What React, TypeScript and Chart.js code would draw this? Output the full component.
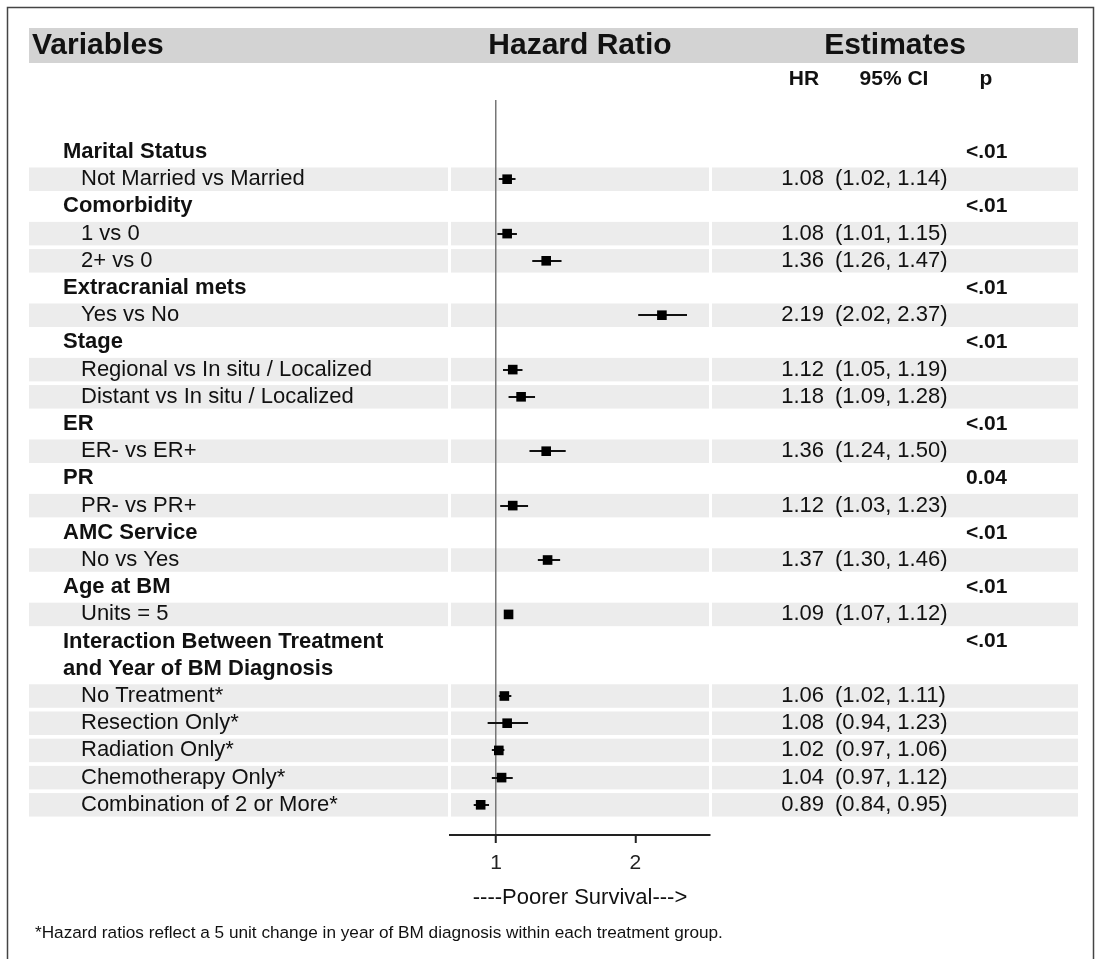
import React, { useEffect, useRef } from "react";
import { Chart, registerables } from "chart.js";

Chart.register(...registerables);

// ---------- data ----------
const rowLabels: string[] = [
  "Marital Status",
  "Not Married vs Married",
  "Comorbidity",
  "1 vs 0",
  "2+ vs 0",
  "Extracranial mets",
  "Yes vs No",
  "Stage",
  "Regional vs In situ / Localized",
  "Distant vs In situ / Localized",
  "ER",
  "ER- vs ER+",
  "PR",
  "PR- vs PR+",
  "AMC Service",
  "No vs Yes",
  "Age at BM",
  "Units = 5",
  "Interaction Between Treatment",
  "and Year of BM Diagnosis",
  "No Treatment*",
  "Resection Only*",
  "Radiation Only*",
  "Chemotherapy Only*",
  "Combination of 2 or More*",
];

const rowIsGroup: boolean[] = [
  true, false, true, false, false, true, false, true, false, false,
  true, false, true, false, true, false, true, false, true, true,
  false, false, false, false, false,
];

const hrValues: (number | null)[] = [
  null, 1.08, null, 1.08, 1.36, null, 2.19, null, 1.12, 1.18,
  null, 1.36, null, 1.12, null, 1.37, null, 1.09, null, null,
  1.06, 1.08, 1.02, 1.04, 0.89,
];

const ciLower: (number | null)[] = [
  null, 1.02, null, 1.01, 1.26, null, 2.02, null, 1.05, 1.09,
  null, 1.24, null, 1.03, null, 1.3, null, 1.07, null, null,
  1.02, 0.94, 0.97, 0.97, 0.84,
];

const ciUpper: (number | null)[] = [
  null, 1.14, null, 1.15, 1.47, null, 2.37, null, 1.19, 1.28,
  null, 1.5, null, 1.23, null, 1.46, null, 1.12, null, null,
  1.11, 1.23, 1.06, 1.12, 0.95,
];

const pValues: string[] = [
  "<.01", "", "<.01", "", "", "<.01", "", "<.01", "", "",
  "<.01", "", "0.04", "", "<.01", "", "<.01", "", "<.01", "",
  "", "", "", "", "",
];

const xTicks: number[] = [1, 2];
const xMin = 0.67;
const xMax = 2.535;

const headerTitles = { variables: "Variables", hazard: "Hazard Ratio", estimates: "Estimates" };
const subHeaders = { hr: "HR", ci: "95% CI", p: "p" };
const axisTitle = "----Poorer Survival--->";
const footnote =
  "*Hazard ratios reflect a 5 unit change in year of BM diagnosis within each treatment group.";

// ---------- drawing ----------
const FONT = "'Liberation Sans', Arial, Helvetica, sans-serif";
const W = 1095;
const H = 959;

const fmt = (v: number) => v.toFixed(2);

const forestPlugin = {
  id: "forestTable",
  beforeDraw(chart: any) {
    const ctx = chart.ctx as CanvasRenderingContext2D;
    const { left, right } = chart.chartArea;
    const ys = chart.scales.y;
    ctx.save();
    // header band
    ctx.fillStyle = "#d3d3d3";
    ctx.fillRect(29, 28, 1078 - 29, 35);
    // row stripes
    ctx.fillStyle = "#ececec";
    rowLabels.forEach((_, i) => {
      if (rowIsGroup[i]) return;
      const py = ys.getPixelForValue(i);
      const t = py - 11.75;
      const h = 23.5;
      ctx.fillRect(29, t, left - 2 - 29, h);
      ctx.fillRect(left + 1, t, right - 1 - (left + 1), h);
      ctx.fillRect(right + 2, t, 1078 - (right + 2), h);
    });
    // frame
    ctx.strokeStyle = "#444";
    ctx.lineWidth = 1.5;
    ctx.beginPath();
    ctx.moveTo(7.5, H + 2);
    ctx.lineTo(7.5, 7.5);
    ctx.lineTo(1093.5, 7.5);
    ctx.lineTo(1093.5, H + 2);
    ctx.stroke();
    ctx.restore();
  },
  beforeDatasetsDraw(chart: any) {
    const ctx = chart.ctx as CanvasRenderingContext2D;
    const xs = chart.scales.x;
    const ys = chart.scales.y;
    ctx.save();
    ctx.strokeStyle = "#111";
    ctx.lineWidth = 2;
    rowLabels.forEach((_, i) => {
      const lo = ciLower[i];
      const hi = ciUpper[i];
      if (lo == null || hi == null) return;
      const py = Math.round(ys.getPixelForValue(i));
      ctx.beginPath();
      ctx.moveTo(xs.getPixelForValue(lo), py);
      ctx.lineTo(xs.getPixelForValue(hi), py);
      ctx.stroke();
    });
    ctx.restore();
  },
  afterDraw(chart: any) {
    const ctx = chart.ctx as CanvasRenderingContext2D;
    const ys = chart.scales.y;
    const { left, right } = chart.chartArea;
    ctx.save();
    ctx.fillStyle = "#111";
    ctx.textBaseline = "middle";

    // header titles
    ctx.font = `bold 30px ${FONT}`;
    ctx.textAlign = "left";
    ctx.fillText(headerTitles.variables, 32, 46);
    ctx.textAlign = "center";
    ctx.fillText(headerTitles.hazard, (left + right) / 2, 46);
    ctx.fillText(headerTitles.estimates, 895, 46);

    // sub headers
    ctx.font = `bold 21px ${FONT}`;
    ctx.fillText(subHeaders.hr, 804, 79);
    ctx.fillText(subHeaders.ci, 894, 79);
    ctx.fillText(subHeaders.p, 986, 79);

    // rows
    rowLabels.forEach((lab, i) => {
      const py = ys.getPixelForValue(i);
      ctx.textAlign = "left";
      if (rowIsGroup[i]) {
        ctx.font = `bold 22px ${FONT}`;
        ctx.fillText(lab, 63, py);
      } else {
        ctx.font = `22px ${FONT}`;
        ctx.fillText(lab, 81, py);
      }
      const hr = hrValues[i];
      const lo = ciLower[i];
      const hi = ciUpper[i];
      if (hr != null && lo != null && hi != null) {
        ctx.font = `22px ${FONT}`;
        ctx.textAlign = "right";
        ctx.fillText(fmt(hr), 824, py);
        ctx.textAlign = "left";
        ctx.fillText(`(${fmt(lo)}, ${fmt(hi)})`, 835, py);
      }
      if (pValues[i]) {
        ctx.font = `bold 21px ${FONT}`;
        ctx.textAlign = "left";
        ctx.fillText(pValues[i], 966, py);
      }
    });

    // axis title
    ctx.font = `22px ${FONT}`;
    ctx.textAlign = "center";
    ctx.fillText(axisTitle, (left + right) / 2, 898);

    // footnote
    ctx.font = `17.2px ${FONT}`;
    ctx.textAlign = "left";
    ctx.fillText(footnote, 35, 933);
    ctx.restore();
  },
};

export default function App() {
  const canvasRef = useRef<HTMLCanvasElement | null>(null);

  useEffect(() => {
    document.body.style.margin = "0";
    const canvas = canvasRef.current;
    if (!canvas) return;
    const points = rowLabels
      .map((_, i) => (hrValues[i] != null ? { x: hrValues[i] as number, y: i } : null))
      .filter((p) => p !== null) as { x: number; y: number }[];

    const chart = new Chart(canvas, {
      type: "scatter",
      data: {
        datasets: [
          {
            data: points,
            pointStyle: "rect",
            pointRadius: 6.8,
            pointBackgroundColor: "#000",
            pointBorderColor: "#000",
            pointBorderWidth: 0,
          },
        ],
      },
      options: {
        responsive: false,
        animation: false,
        devicePixelRatio: 1,
        layout: { padding: { left: 450, right: W - 710, top: 100, bottom: 0 } },
        plugins: { legend: { display: false }, tooltip: { enabled: false } },
        scales: {
          x: {
            type: "linear",
            min: xMin,
            max: xMax,
            afterFit: (scale: any) => {
              scale.height = H - 835;
            },
            afterBuildTicks: (scale: any) => {
              scale.ticks = xTicks.map((v) => ({ value: v }));
            },
            ticks: {
              font: { size: 21, family: FONT },
              color: "#222",
              padding: 8,
              callback: (v: any) => String(v),
            },
            grid: {
              color: (c: any) => (c.tick && c.tick.value === 1 ? "#777" : "rgba(0,0,0,0)"),
              lineWidth: 1.5,
              drawTicks: true,
              tickLength: 8,
              tickColor: "#222",
              tickWidth: 2,
            },
            border: { display: true, color: "#222", width: 2 },
          },
          y: {
            type: "linear",
            display: false,
            reverse: true,
            min: -1.912,
            max: 25.11,
          },
        },
      },
      plugins: [forestPlugin],
    });
    return () => chart.destroy();
  }, []);

  return (
    <canvas
      ref={canvasRef}
      width={W}
      height={H}
      style={{ display: "block", width: W, height: H }}
    />
  );
}
